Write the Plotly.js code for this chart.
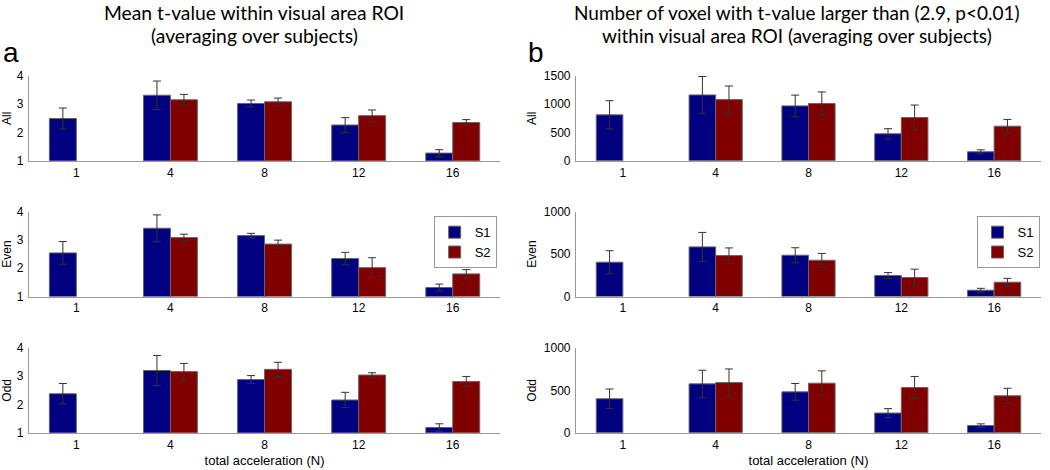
<!DOCTYPE html>
<html>
<head>
<meta charset="utf-8">
<script src="https://cdn.plot.ly/plotly-3.0.1.min.js"></script>
<style>html,body{margin:0;padding:0;background:#fff;}#chart{width:1050px;height:470px;}</style>
</head>
<body>
<div id="chart"></div>
<script>
// Categories: total acceleration (N)
const categories = ['1', '4', '8', '12', '16'];
const seriesNames = ['S1', 'S2'];
const rowLabels = ['All', 'Even', 'Odd'];
const titleA = ['Mean t-value within visual area ROI', '(averaging over subjects)'];
const titleB = ['Number of voxel with t-value larger than (2.9, p<0.01)', 'within visual area ROI (averaging over subjects)'];

// (a) Mean t-value within visual area ROI
const tAllS1 = [2.49, 3.31, 3.02, 2.26, 1.27];
const tAllS1Err = [0.37, 0.50, 0.12, 0.26, 0.12];
const tAllS2 = [null, 3.15, 3.08, 2.59, 2.35];
const tAllS2Err = [null, 0.19, 0.13, 0.20, 0.10];
const tEvenS1 = [2.54, 3.41, 3.15, 2.34, 1.32];
const tEvenS1Err = [0.40, 0.47, 0.08, 0.22, 0.12];
const tEvenS2 = [null, 3.08, 2.85, 2.02, 1.80];
const tEvenS2Err = [null, 0.12, 0.14, 0.35, 0.15];
const tOddS1 = [2.38, 3.20, 2.88, 2.16, 1.19];
const tOddS1Err = [0.36, 0.53, 0.14, 0.27, 0.13];
const tOddS2 = [null, 3.16, 3.24, 3.04, 2.81];
const tOddS2Err = [null, 0.29, 0.25, 0.08, 0.18];

// (b) Number of voxels with t-value > 2.9
const nAllS1 = [809, 1160, 967, 475, 158];
const nAllS1Err = [250, 325, 190, 90, 35];
const nAllS2 = [null, 1078, 1008, 762, 609];
const nAllS2Err = [null, 240, 205, 220, 120];
const nEvenS1 = [404, 584, 486, 247, 75];
const nEvenS1Err = [135, 170, 88, 35, 22];
const nEvenS2 = [null, 482, 427, 224, 169];
const nEvenS2Err = [null, 90, 80, 98, 45];
const nOddS1 = [401, 576, 482, 233, 86];
const nOddS1Err = [115, 160, 98, 52, 20];
const nOddS2 = [null, 591, 584, 533, 436];
const nOddS2Err = [null, 160, 145, 130, 88];

const colS1 = '#000080';
const colS2 = '#800000';
const sans = '"Liberation Sans", Arial, Helvetica, sans-serif';
const tickFont = {family: sans, size: 12, color: '#000'};

const panels = [
  {s1: tAllS1, e1: tAllS1Err, s2: tAllS2, e2: tAllS2Err, ax: ''},
  {s1: tEvenS1, e1: tEvenS1Err, s2: tEvenS2, e2: tEvenS2Err, ax: '2', legend: 'legend'},
  {s1: tOddS1, e1: tOddS1Err, s2: tOddS2, e2: tOddS2Err, ax: '3'},
  {s1: nAllS1, e1: nAllS1Err, s2: nAllS2, e2: nAllS2Err, ax: '4'},
  {s1: nEvenS1, e1: nEvenS1Err, s2: nEvenS2, e2: nEvenS2Err, ax: '5', legend: 'legend2'},
  {s1: nOddS1, e1: nOddS1Err, s2: nOddS2, e2: nOddS2Err, ax: '6'}
];

const traces = [];
panels.forEach(p => {
  [[p.s1, p.e1, colS1, seriesNames[0]], [p.s2, p.e2, colS2, seriesNames[1]]].forEach(([vals, errs, col, nm]) => {
    traces.push({
      type: 'bar', x: categories, y: vals, name: nm,
      xaxis: 'x' + p.ax, yaxis: 'y' + p.ax,
      marker: {color: col, line: {color: '#666', width: 1}},
      error_y: {type: 'data', array: errs, visible: true, color: '#333', thickness: 1, width: 4},
      showlegend: !!p.legend,
      legend: p.legend || 'legend',
      hoverinfo: 'skip'
    });
  });
});

const leftX = [0.0279, 0.476];
const rightX = [0.549, 0.991];
const rowY = [[0.658, 0.839], [0.369, 0.550], [0.079, 0.260]];

function xax(dom, anchor, title) {
  const a = {domain: dom, anchor: anchor, type: 'category', range: [-0.5, 4.5],
    showline: true, linecolor: '#999', linewidth: 1.5, ticks: '', showgrid: false,
    zeroline: false, tickfont: tickFont, fixedrange: true};
  if (title) a.title = {text: title, font: {family: sans, size: 13, color: '#000'}, standoff: 5};
  return a;
}
function yax(dom, anchor, range, dtick, title) {
  return {domain: dom, anchor: anchor, range: range, dtick: dtick, showline: true,
    linecolor: '#999', linewidth: 1.5, ticks: '', showgrid: false, zeroline: false,
    tickfont: tickFont, fixedrange: true, ticklabelstandoff: 2,
    title: {text: title, font: {family: sans, size: 12, color: '#000'}, standoff: 4}};
}

const legendStyle = (x) => ({x: x, y: 0.540, xanchor: 'left', yanchor: 'top', bordercolor: '#999', borderwidth: 1,
  bgcolor: '#fff', font: {family: sans, size: 13, color: '#000'}, tracegroupgap: 0, itemwidth: 30});

const titleFont = (s) => ({family: 'Lato, "Open Sans", sans-serif', size: s, color: '#000'});
const titleAnn = (txt, xc, yc, s) => ({text: txt, xref: 'paper', yref: 'paper', x: xc / 1050, y: 1 - yc / 470,
  xanchor: 'center', yanchor: 'middle', showarrow: false, font: titleFont(s)});

const layout = {
  width: 1050, height: 470,
  margin: {l: 0, r: 0, t: 0, b: 0},
  paper_bgcolor: '#fff', plot_bgcolor: '#fff',
  barmode: 'group', bargap: 0.427, bargroupgap: 0,
  xaxis: xax(leftX, 'y'), yaxis: yax(rowY[0], 'x', [1, 4], 1, rowLabels[0]),
  xaxis2: xax(leftX, 'y2'), yaxis2: yax(rowY[1], 'x2', [1, 4], 1, rowLabels[1]),
  xaxis3: xax(leftX, 'y3', 'total acceleration (N)'), yaxis3: yax(rowY[2], 'x3', [1, 4], 1, rowLabels[2]),
  xaxis4: xax(rightX, 'y4'), yaxis4: yax(rowY[0], 'x4', [0, 1500], 500, rowLabels[0]),
  xaxis5: xax(rightX, 'y5'), yaxis5: yax(rowY[1], 'x5', [0, 1000], 500, rowLabels[1]),
  xaxis6: xax(rightX, 'y6', 'total acceleration (N)'), yaxis6: yax(rowY[2], 'x6', [0, 1000], 500, rowLabels[2]),
  legend: legendStyle(0.413),
  legend2: legendStyle(0.930),
  annotations: [
    titleAnn(titleA[0], 254, 13, 19.3),
    titleAnn(titleA[1], 254, 35, 19.3),
    titleAnn(titleB[0], 797, 13, 19),
    titleAnn(titleB[1], 797, 35, 19),
    {text: 'a', xref: 'paper', yref: 'paper', x: 1 / 1050, y: 1 - 70 / 470, xanchor: 'left', yanchor: 'bottom',
      showarrow: false, font: {family: sans, size: 28, color: '#000'}},
    {text: 'b', xref: 'paper', yref: 'paper', x: 526 / 1050, y: 1 - 70 / 470, xanchor: 'left', yanchor: 'bottom',
      showarrow: false, font: {family: sans, size: 28, color: '#000'}}
  ]
};

Plotly.newPlot('chart', traces, layout, {displayModeBar: false, staticPlot: true});
</script>
</body>
</html>
